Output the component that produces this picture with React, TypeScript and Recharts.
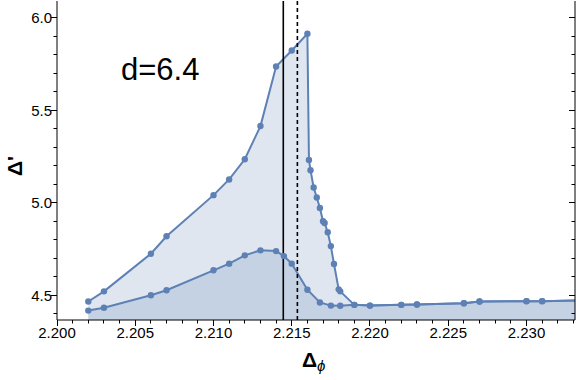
import React from "react"
import { Area, ComposedChart, ReferenceLine, XAxis, YAxis } from "recharts"

const upperX = [
  2.202, 2.203, 2.206, 2.207, 2.21, 2.211, 2.212, 2.213, 2.214, 2.215, 2.216,
  2.2161, 2.2162, 2.2164, 2.2166, 2.2168, 2.217, 2.2171, 2.2173, 2.2175, 2.2177,
  2.218, 2.2181, 2.219, 2.22, 2.222, 2.223, 2.226, 2.227, 2.23, 2.231, 2.234,
]
const upperY = [
  4.465, 4.52, 4.724, 4.818, 5.041, 5.126, 5.235, 5.415, 5.737, 5.824, 5.915,
  5.231, 5.176, 5.082, 5.028, 4.971, 4.9, 4.89, 4.84, 4.765, 4.668,
  4.531, 4.52, 4.447, 4.443, 4.447, 4.449, 4.456, 4.465, 4.467, 4.467, 4.473,
]
const lowerX = [
  2.202, 2.203, 2.206, 2.207, 2.21, 2.211, 2.212, 2.213, 2.214, 2.2145, 2.215,
  2.216, 2.2168, 2.2175, 2.2181, 2.219, 2.22, 2.222, 2.223, 2.226, 2.227, 2.23,
  2.231, 2.234,
]
const lowerY = [
  4.416, 4.431, 4.499, 4.526, 4.634, 4.67, 4.715, 4.742, 4.738, 4.711, 4.67,
  4.529, 4.46, 4.443, 4.442, 4.447, 4.443, 4.447, 4.449, 4.456, 4.465, 4.467,
  4.467, 4.473,
]

const solidLineX = 2.21446
const dashedLineX = 2.21536

const xMajorTicks = [2.2, 2.205, 2.21, 2.215, 2.22, 2.225, 2.23]
const xTickLabels = ["2.200", "2.205", "2.210", "2.215", "2.220", "2.225", "2.230"]
const xMinorTicks = [
  2.201, 2.202, 2.203, 2.204, 2.206, 2.207, 2.208, 2.209, 2.211, 2.212, 2.213,
  2.214, 2.216, 2.217, 2.218, 2.219, 2.221, 2.222, 2.223, 2.224, 2.226, 2.227,
  2.228, 2.229, 2.231, 2.232, 2.233,
]
const yMajorTicks = [4.5, 5.0, 5.5, 6.0]
const yTickLabels = ["4.5", "5.0", "5.5", "6.0"]
const yMinorTicks = [4.4, 4.6, 4.7, 4.8, 4.9, 5.1, 5.2, 5.3, 5.4, 5.6, 5.7, 5.8, 5.9]

const xTicks = [...xMajorTicks, ...xMinorTicks].sort((a, b) => a - b)
const yTicks = [...yMajorTicks, ...yMinorTicks].sort((a, b) => a - b)

const rows = [
  ...upperX.map((x, i) => ({ x, upper: upperY[i] })),
  ...lowerX.map((x, i) => ({ x, lower: lowerY[i] })),
].sort((a, b) => a.x - b.x)

const BLUE = "#5e81b5"
const FONT = "'Liberation Sans', Arial, sans-serif"
const X_DOMAIN: [number, number] = [2.2, 2.2331]
const Y_DOMAIN: [number, number] = [4.365, 6.092]

const majorIndex = (v: number, majors: number[]) =>
  majors.findIndex((m) => Math.abs(m - v) < 1e-7)

// snap to pixel centres so the 1px tick marks stay crisp
const snap = (v: number) => Math.round(v - 0.5) + 0.5

const BottomTick = (props: any) => {
  const { x, y, payload } = props
  const i = majorIndex(payload.value, xMajorTicks)
  const sx = snap(x)
  return (
    <g>
      <line x1={sx} x2={sx} y1={y} y2={y + (i >= 0 ? 6 : 3.5)} stroke="#000" strokeWidth={1} />
      {i >= 0 && (
        <text x={x} y={y + 18} textAnchor="middle" fontSize={15} fontFamily={FONT} fill="#000">
          {xTickLabels[i]}
        </text>
      )}
    </g>
  )
}

const TopTick = (props: any) => {
  const { x, y, payload } = props
  const i = majorIndex(payload.value, xMajorTicks)
  const sx = snap(x)
  return <line x1={sx} x2={sx} y1={y} y2={y + (i >= 0 ? 6 : 3.5)} stroke="#000" strokeWidth={1} />
}

const LeftTick = (props: any) => {
  const { x, y, payload } = props
  const i = majorIndex(payload.value, yMajorTicks)
  const sy = snap(y)
  return (
    <g>
      <line x1={x - (i >= 0 ? 6 : 3.5)} x2={x} y1={sy} y2={sy} stroke="#000" strokeWidth={1} />
      {i >= 0 && (
        <text x={x - 5} y={y + 5.5} textAnchor="end" fontSize={15} fontFamily={FONT} fill="#000">
          {yTickLabels[i]}
        </text>
      )}
    </g>
  )
}

const RightTick = (props: any) => {
  const { x, y, payload } = props
  const i = majorIndex(payload.value, yMajorTicks)
  const sy = snap(y)
  return <line x1={x - (i >= 0 ? 6 : 3.5)} x2={x} y1={sy} y2={sy} stroke="#000" strokeWidth={1} />
}

const XTitle = () => (
  <text x={302} y={367} fontSize={21} fontWeight="bold" fontFamily={FONT} fill="#000">
    Δ
    <tspan fontSize={15} fontStyle="italic" fontWeight="normal" dy={4}>
      ϕ
    </tspan>
  </text>
)

// y title plus the "d=6.4" note inside the plot
const YTitle = () => (
  <g>
    <text
      x={22}
      y={166}
      transform="rotate(-90 22 166)"
      textAnchor="middle"
      fontSize={21}
      fontWeight="bold"
      fontFamily={FONT}
      fill="#000"
    >
      Δ'
    </text>
    <text x={121} y={80} fontSize={31} fontFamily={FONT} fill="#000">
      d=6.4
    </text>
  </g>
)

const dotStyle = { r: 3.2, fill: BLUE, fillOpacity: 1, stroke: BLUE, strokeWidth: 0 }

export default function App() {
  return (
    <div style={{ position: "absolute", left: 0, top: 0, background: "#fff" }}>
      <ComposedChart
        width={576}
        height={380}
        data={rows}
        margin={{ top: 1, right: 0, bottom: 0, left: 0 }}
      >
        <XAxis
          dataKey="x"
          type="number"
          domain={X_DOMAIN}
          allowDataOverflow
          ticks={xTicks}
          interval={0}
          tickSize={0}
          tickMargin={0}
          tick={<BottomTick />}
          axisLine={{ stroke: "#000" }}
          height={60}
          label={<XTitle />}
        />
        <XAxis
          xAxisId="top"
          orientation="top"
          dataKey="x"
          type="number"
          domain={X_DOMAIN}
          allowDataOverflow
          ticks={xTicks}
          interval={0}
          tickSize={0}
          tickMargin={0}
          tick={<TopTick />}
          axisLine={{ stroke: "#000" }}
          height={0}
        />
        <YAxis
          type="number"
          domain={Y_DOMAIN}
          allowDataOverflow
          ticks={yTicks}
          interval={0}
          tickSize={0}
          tickMargin={0}
          tick={<LeftTick />}
          axisLine={{ stroke: "#000" }}
          width={57}
          label={<YTitle />}
        />
        <YAxis
          yAxisId="r"
          orientation="right"
          type="number"
          domain={Y_DOMAIN}
          allowDataOverflow
          ticks={yTicks}
          interval={0}
          tickSize={0}
          tickMargin={0}
          tick={<RightTick />}
          axisLine={{ stroke: "#000" }}
          width={1}
        />
        <Area
          type="linear"
          dataKey="upper"
          connectNulls
          stroke={BLUE}
          strokeWidth={2}
          fill={BLUE}
          fillOpacity={0.2}
          dot={dotStyle}
          activeDot={false}
          isAnimationActive={false}
        />
        <Area
          type="linear"
          dataKey="lower"
          connectNulls
          stroke={BLUE}
          strokeWidth={2}
          fill={BLUE}
          fillOpacity={0.2}
          dot={dotStyle}
          activeDot={false}
          isAnimationActive={false}
        />
        <ReferenceLine x={solidLineX} stroke="#000" strokeWidth={1.6} />
        <ReferenceLine x={dashedLineX} stroke="#000" strokeWidth={1.6} strokeDasharray="4 3" />
      </ComposedChart>
    </div>
  )
}
